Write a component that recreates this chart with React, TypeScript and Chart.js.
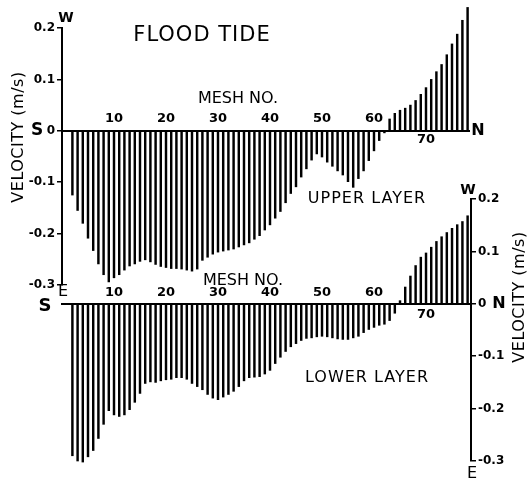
import React, { useEffect, useRef } from 'react';
import { Chart, registerables } from 'chart.js';

Chart.register(...registerables);

// Mesh numbers (S -> N)
const meshNumbers = [
  2, 3, 4, 5, 6, 7, 8, 9, 10, 11, 12, 13, 14, 15, 16, 17, 18, 19, 20,
  21, 22, 23, 24, 25, 26, 27, 28, 29, 30, 31, 32, 33, 34, 35, 36, 37, 38, 39, 40,
  41, 42, 43, 44, 45, 46, 47, 48, 49, 50, 51, 52, 53, 54, 55, 56, 57, 58, 59, 60,
  61, 62, 63, 64, 65, 66, 67, 68, 69, 70, 71, 72, 73, 74, 75, 76, 77, 78,
];

// Upper layer velocity (m/s), + = W, - = E
const upperVelocity = [
  -0.125, -0.155, -0.18, -0.209, -0.233, -0.259, -0.28, -0.294, -0.286, -0.28,
  -0.271, -0.263, -0.259, -0.254, -0.251, -0.255, -0.26, -0.264, -0.266,
  -0.268, -0.268, -0.269, -0.271, -0.273, -0.269, -0.252, -0.246, -0.24, -0.236,
  -0.234, -0.232, -0.23, -0.226, -0.222, -0.218, -0.211, -0.204, -0.193, -0.183,
  -0.17, -0.157, -0.14, -0.122, -0.109, -0.09, -0.074, -0.057, -0.045, -0.051,
  -0.061, -0.069, -0.078, -0.086, -0.099, -0.11, -0.093, -0.078, -0.058, -0.039,
  -0.019, -0.004, 0.023, 0.034, 0.04, 0.044, 0.05, 0.059, 0.071, 0.084,
  0.1, 0.115, 0.129, 0.148, 0.169, 0.188, 0.215, 0.24,
];

// Lower layer velocity (m/s)
const lowerVelocity = [
  -0.29, -0.3, -0.302, -0.292, -0.28, -0.257, -0.23, -0.204, -0.212, -0.215,
  -0.212, -0.202, -0.188, -0.171, -0.152, -0.149, -0.15, -0.147, -0.145,
  -0.144, -0.141, -0.141, -0.144, -0.152, -0.158, -0.164, -0.173, -0.18, -0.183,
  -0.178, -0.173, -0.167, -0.158, -0.147, -0.141, -0.14, -0.139, -0.134, -0.127,
  -0.114, -0.102, -0.091, -0.082, -0.076, -0.07, -0.066, -0.065, -0.063, -0.062,
  -0.063, -0.065, -0.067, -0.068, -0.068, -0.065, -0.062, -0.055, -0.049, -0.045,
  -0.041, -0.039, -0.032, -0.018, 0.006, 0.032, 0.053, 0.073, 0.089, 0.097,
  0.108, 0.119, 0.128, 0.136, 0.144, 0.151, 0.157, 0.168,
];

const meshTicksAbove = [10, 20, 30, 40, 50, 60];
const meshTicksBelow = [70];

const FONT = '"DejaVu Sans", "Liberation Sans", sans-serif';

function put(
  ctx: CanvasRenderingContext2D,
  text: string,
  x: number,
  y: number,
  size: number,
  opts: { rotate?: number; spacing?: number; bold?: boolean; align?: CanvasTextAlign } = {}
) {
  ctx.save();
  ctx.font = `${opts.bold ? 'bold ' : ''}${size}px ${FONT}`;
  ctx.fillStyle = '#000';
  ctx.textAlign = opts.align || 'center';
  ctx.textBaseline = 'middle';
  (ctx as any).letterSpacing = `${opts.spacing || 0}px`;
  ctx.translate(x, y);
  if (opts.rotate) ctx.rotate(opts.rotate);
  ctx.fillText(text, 0, 0);
  ctx.restore();
}

const tickFmt = (v: any) => {
  const n = Number(v);
  if (Math.abs(n) < 1e-9) return '0';
  return n.toFixed(1);
};

function makeOptions(kind: 'upper' | 'lower'): any {
  const upper = kind === 'upper';
  return {
    responsive: false,
    animation: false,
    events: [],
    layout: {
      padding: upper
        ? { left: 0, top: 28, right: 59, bottom: 196 }
        : { left: 62, top: 199, right: 0, bottom: 20 },
    },
    plugins: { legend: { display: false }, tooltip: { enabled: false } },
    scales: {
      x: {
        type: 'linear',
        min: 0,
        max: upper ? 78.27 : 78.65,
        offset: false,
        position: { y: 0 },
        grid: { display: false },
        border: { display: true, color: '#000', width: 2 },
        ticks: { display: false },
      },
      y: {
        type: 'linear',
        position: upper ? 'left' : 'right',
        min: -0.3,
        max: 0.2,
        ticks: {
          stepSize: 0.1,
          callback: tickFmt,
          color: '#000',
          padding: 2,
          font: { family: FONT, size: 12, weight: 'bold' },
        },
        grid: {
          display: true,
          drawOnChartArea: false,
          drawTicks: true,
          tickLength: 5,
          color: '#000',
          lineWidth: 1.5,
        },
        border: { display: true, color: '#000', width: 2 },
        afterFit: (s: any) => {
          s.width = upper ? 62 : 57;
        },
      },
    },
  };
}

const upperText = {
  id: 'upperText',
  afterDraw(chart: any) {
    const ctx = chart.ctx as CanvasRenderingContext2D;
    const xs = chart.scales.x;
    const zero = chart.scales.y.getPixelForValue(0);
    put(ctx, 'FLOOD TIDE', 202, 36, 21, { spacing: 1 });
    put(ctx, 'W', 66, 18, 14, { bold: true });
    put(ctx, 'S', 37, zero, 17, { bold: true });
    put(ctx, 'N', 478, zero, 16, { bold: true });
    put(ctx, 'MESH NO.', 238, 99, 16);
    meshTicksAbove.forEach((m) => put(ctx, String(m), xs.getPixelForValue(m), zero - 12, 13, { bold: true }));
    meshTicksBelow.forEach((m) => put(ctx, String(m), xs.getPixelForValue(m), zero + 9, 13, { bold: true }));
    put(ctx, 'VELOCITY (m/s)', 19, 137, 16, { rotate: -Math.PI / 2, spacing: 0.5 });
    put(ctx, 'UPPER LAYER', 367, 199, 16, { spacing: 1 });
  },
};

const lowerText = {
  id: 'lowerText',
  afterDraw(chart: any) {
    const ctx = chart.ctx as CanvasRenderingContext2D;
    const xs = chart.scales.x;
    const zero = chart.scales.y.getPixelForValue(0);
    put(ctx, 'MESH NO.', 243, 281, 16);
    meshTicksAbove.forEach((m) => put(ctx, String(m), xs.getPixelForValue(m), zero - 11, 13, { bold: true }));
    meshTicksBelow.forEach((m) => put(ctx, String(m), xs.getPixelForValue(m), zero + 11, 13, { bold: true }));
    put(ctx, 'E', 63, zero - 12, 16);
    put(ctx, 'S', 45, zero + 3, 18, { bold: true });
    put(ctx, 'N', 499, zero, 16, { bold: true });
    put(ctx, 'W', 468, 190, 14, { bold: true });
    put(ctx, 'E', 472, 474, 16);
    put(ctx, 'VELOCITY (m/s)', 520, 297, 16, { rotate: -Math.PI / 2, spacing: 0.5 });
    put(ctx, 'LOWER LAYER', 367, 378, 16, { spacing: 1 });
  },
};

export default function App() {
  const upperRef = useRef<HTMLCanvasElement | null>(null);
  const lowerRef = useRef<HTMLCanvasElement | null>(null);

  useEffect(() => {
    const up = new Chart(upperRef.current!, {
      type: 'bar',
      data: {
        datasets: [
          {
            data: meshNumbers.map((m, i) => ({ x: m, y: upperVelocity[i] })),
            backgroundColor: '#000',
            borderWidth: 0,
            barThickness: 1.8,
            clip: false,
          } as any,
        ],
      },
      options: makeOptions('upper'),
      plugins: [upperText],
    });
    const low = new Chart(lowerRef.current!, {
      type: 'bar',
      data: {
        datasets: [
          {
            data: meshNumbers.map((m, i) => ({ x: m, y: lowerVelocity[i] })),
            backgroundColor: '#000',
            borderWidth: 0,
            barThickness: 1.8,
            clip: false,
          } as any,
        ],
      },
      options: makeOptions('lower'),
      plugins: [lowerText],
    });
    return () => {
      up.destroy();
      low.destroy();
    };
  }, []);

  const cs: React.CSSProperties = { position: 'absolute', left: 0, top: 0, display: 'block' };
  return (
    <div style={{ position: 'absolute', left: 0, top: 0, width: 528, height: 481, background: '#fff' }}>
      <canvas ref={upperRef} width={528} height={481} style={cs} />
      <canvas ref={lowerRef} width={528} height={481} style={cs} />
    </div>
  );
}
